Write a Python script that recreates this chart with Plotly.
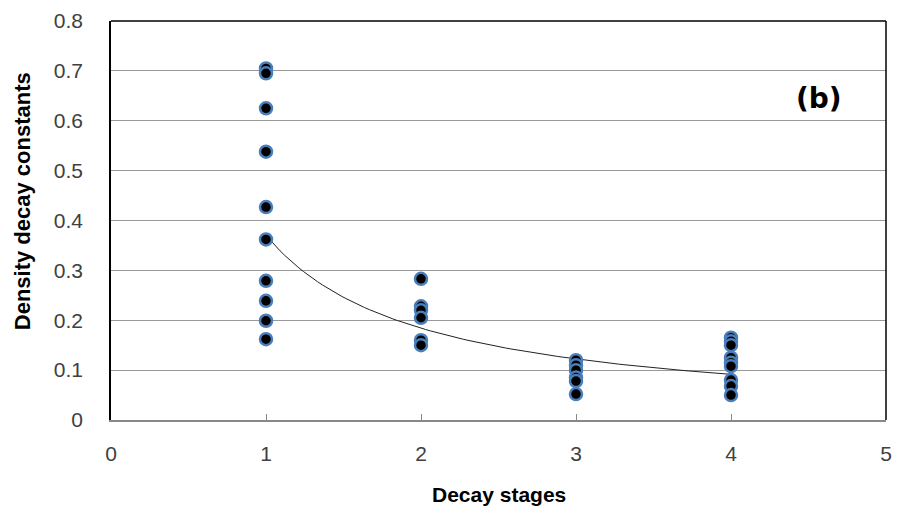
import numpy as np
import plotly.graph_objects as go

stage1 = [0.705, 0.695, 0.625, 0.538, 0.427, 0.362, 0.279, 0.239, 0.199, 0.162]
stage2 = [0.283, 0.228, 0.220, 0.205, 0.160, 0.150]
stage3 = [0.120, 0.110, 0.100, 0.085, 0.078, 0.052]
stage4 = [0.165, 0.158, 0.150, 0.125, 0.115, 0.108, 0.080, 0.068, 0.050]
stages = [1, 2, 3, 4]
groups = [stage1, stage2, stage3, stage4]
x_ticks = [0, 1, 2, 3, 4, 5]
y_ticks = [0, 0.1, 0.2, 0.3, 0.4, 0.5, 0.6, 0.7, 0.8]
y_tick_text = ["0", "0.1", "0.2", "0.3", "0.4", "0.5", "0.6", "0.7", "0.8"]

x = []
y = []
for s, g in zip(stages, groups):
    x += [s] * len(g)
    y += g
x = np.array(x, dtype=float)
y = np.array(y, dtype=float)

# power trendline y = a * x^b (least squares in log-log space)
b, lna = np.polyfit(np.log(x), np.log(y), 1)
xf = np.linspace(1, 4, 100)
yf = np.exp(lna) * xf ** b

fig = go.Figure()
fig.add_trace(go.Scatter(x=xf, y=yf, mode="lines",
                         line=dict(color="#222222", width=1), hoverinfo="skip"))
fig.add_trace(go.Scatter(x=x, y=y, mode="markers",
                         marker=dict(size=12, color="black",
                                     line=dict(color="#4a7ebb", width=2.5))))

fig.add_annotation(text="<b>(b)</b>", x=0.913, y=0.806, xref="paper", yref="paper",
                   xanchor="center", yanchor="middle",
                   showarrow=False, font=dict(family="DejaVu Sans", size=28, color="black"))
fig.add_annotation(text="<b>Decay stages</b>", x=0.5, y=-0.186, xref="paper", yref="paper",
                   xanchor="center", yanchor="middle",
                   showarrow=False, font=dict(family="Liberation Sans", size=21, color="black"))
fig.add_annotation(text="<b>Density decay constants</b>", x=-0.115, y=0.548,
                   xref="paper", yref="paper", textangle=-90,
                   xanchor="center", yanchor="middle",
                   showarrow=False, font=dict(family="Liberation Sans", size=22, color="black"))

fig.update_layout(
    width=901, height=512, showlegend=False,
    margin=dict(l=111, r=9, t=17, b=92),
    paper_bgcolor="white", plot_bgcolor="white",
    xaxis=dict(range=[0, 5], tickvals=x_ticks, ticks="inside", ticklen=6,
               tickcolor="#888888", showgrid=False, zeroline=False,
               showline=True, linecolor="#888888", linewidth=1.5,
               ticklabelstandoff=14,
               tickfont=dict(family="Liberation Sans", size=21, color="#404040")),
    yaxis=dict(range=[0, 0.8], tickvals=y_ticks, ticktext=y_tick_text,
               showgrid=True, gridcolor="#999999", gridwidth=1, zeroline=False,
               showline=True, linecolor="black", linewidth=1.5, ticks="",
               ticklabelstandoff=22,
               tickfont=dict(family="Liberation Sans", size=21, color="#404040")),
)
fig.add_shape(type="line", xref="paper", yref="paper", x0=0, x1=1, y0=1, y1=1,
              line=dict(color="black", width=1.5))
fig.add_shape(type="line", xref="paper", yref="paper", x0=1, x1=1, y0=0, y1=1,
              line=dict(color="black", width=1.5))

fig.write_html("out.html")
